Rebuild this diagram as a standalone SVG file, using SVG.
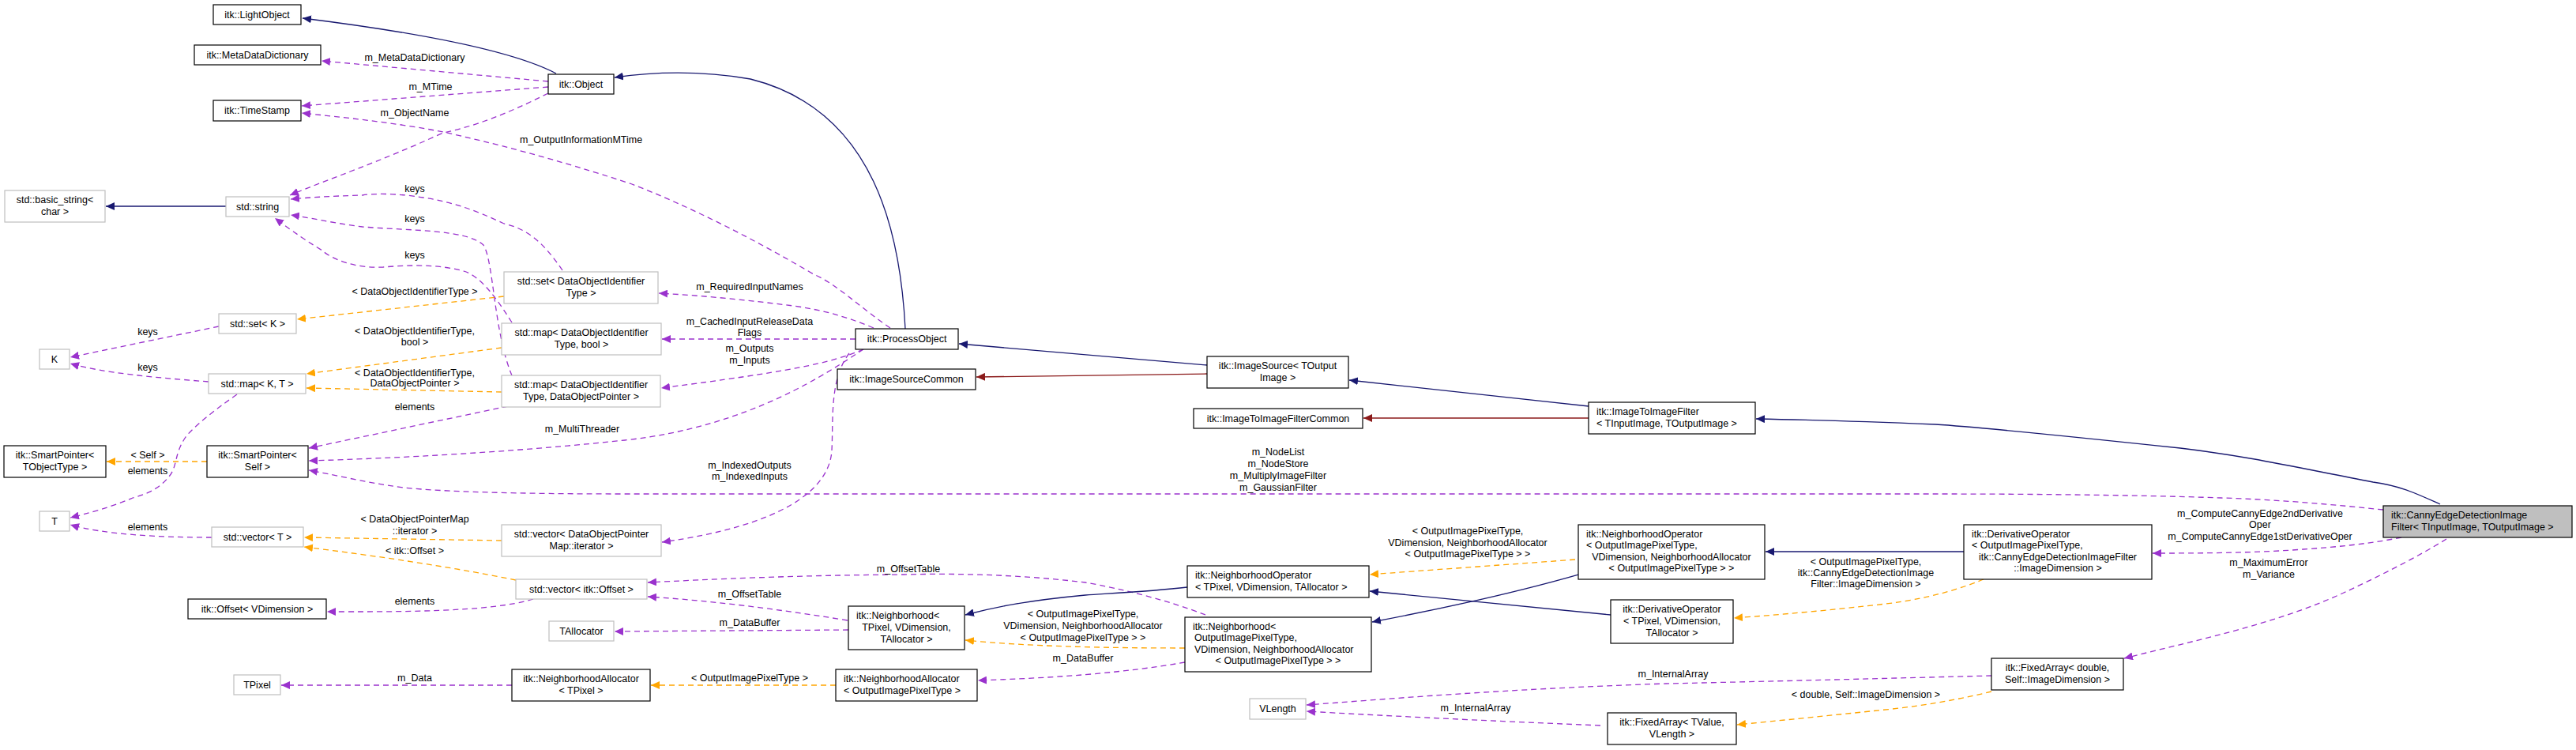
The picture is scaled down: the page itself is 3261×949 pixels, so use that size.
<svg xmlns="http://www.w3.org/2000/svg" width="3261" height="949" viewBox="0 0 3261 949">
<style>
text{font-family:"Liberation Sans",Arial,sans-serif;font-size:12.5px;fill:#000}
.c{text-anchor:middle}
.b{fill:#fff;stroke:#000;stroke-width:1.2}
.g{fill:#fff;stroke:#bfbfbf;stroke-width:1.2}
.e{fill:none;stroke-width:1.3}
.inh{stroke:#191970;marker-end:url(#mb)}
.red{stroke:#8b1a1a;marker-end:url(#mr)}
.use{stroke:#9a32cd;stroke-dasharray:7,5;marker-end:url(#mp)}
.tpl{stroke:#ffa500;stroke-dasharray:7,5;marker-end:url(#mo)}
</style>
<defs>
<marker id="mb" markerUnits="userSpaceOnUse" markerWidth="12" markerHeight="10" refX="11" refY="5" orient="auto"><path d="M0,0L11,5L0,10z" fill="#191970"/></marker>
<marker id="mr" markerUnits="userSpaceOnUse" markerWidth="12" markerHeight="10" refX="11" refY="5" orient="auto"><path d="M0,0L11,5L0,10z" fill="#8b1a1a"/></marker>
<marker id="mp" markerUnits="userSpaceOnUse" markerWidth="12" markerHeight="10" refX="11" refY="5" orient="auto"><path d="M0,0L11,5L0,10z" fill="#9a32cd"/></marker>
<marker id="mo" markerUnits="userSpaceOnUse" markerWidth="12" markerHeight="10" refX="11" refY="5" orient="auto"><path d="M0,0L11,5L0,10z" fill="#ffa500"/></marker>
</defs>
<rect width="3261" height="949" fill="#fff"/>
<g id="edges">
<path class="e inh" d="M704,93 C660,70 560,45 383,23"/>
<path class="e inh" d="M1146,416 C1140,300 1110,140 950,100 C880,88 820,92 778,98"/>
<path class="e use" d="M694,103 L407,77"/><text class="c" x="525" y="77">m_MetaDataDictionary</text>
<path class="e use" d="M694,110 L382,134"/><text class="c" x="545" y="114">m_MTime</text>
<path class="e use" d="M1127,415 C1090,390 1060,360 1030,347 C950,300 870,260 800,233 C700,200 620,180 561,167 C500,155 430,148 382,143"/><text x="658" y="181">m_OutputInformationMTime</text>
<path class="e use" d="M694,118 C640,145 600,160 561,168 C480,205 420,225 367,247"/><text class="c" x="525" y="147">m_ObjectName</text>
<path class="e inh" d="M286,261 L134,261"/>
<path class="e use" d="M712,342 C690,310 670,290 638,283 C600,265 570,255 536,250 C500,244 470,245 459,247 C420,248 390,250 368,252"/><text class="c" x="525" y="243">keys</text>
<path class="e use" d="M648,475 C625,420 625,330 612,310 C590,290 520,292 459,287 C420,282 390,275 368,272"/><text class="c" x="525" y="281">keys</text>
<path class="e use" d="M648,408 C630,380 610,350 587,343 C550,333 510,336 485,338 C450,340 420,328 408,317 C380,300 360,285 348,276"/><text class="c" x="525" y="327">keys</text>
<path class="e tpl" d="M638,375 L376,404"/><text class="c" x="525" y="373">&lt; DataObjectIdentifierType &gt;</text>
<path class="e tpl" d="M635,440 L388,473"/><text class="c" x="525" y="423">&lt; DataObjectIdentifierType,</text><text class="c" x="525" y="437">bool &gt;</text>
<path class="e tpl" d="M635,496 L388,491"/><text class="c" x="525" y="476">&lt; DataObjectIdentifierType,</text><text class="c" x="525" y="489">DataObjectPointer &gt;</text>
<path class="e use" d="M277,413 L89,452"/><text class="c" x="187" y="424">keys</text>
<path class="e use" d="M264,483 C200,478 130,472 89,460"/><text class="c" x="187" y="469">keys</text>
<path class="e use" d="M300,499 C270,520 245,540 235,553 C220,575 225,590 214,603 C200,620 185,625 168,630 C140,642 110,650 89,655"/><text class="c" x="187" y="600">elements</text>
<path class="e use" d="M268,680 C200,680 130,676 89,664"/><text class="c" x="187" y="671">elements</text>
<path class="e tpl" d="M262,584 L135,584"/><text class="c" x="187" y="580">&lt; Self &gt;</text>
<path class="e use" d="M643,514 L391,567"/><text class="c" x="525" y="519">elements</text>
<path class="e use" d="M1093,442 C1050,470 950,540 791,557 C650,572 500,580 391,583"/><text class="c" x="737" y="547">m_MultiThreader</text>
<path class="e use" d="M3017,645 C2950,638 2880,632 2812,630 C2700,626 2550,625 2450,625 L791,625 C650,625 560,622 510,617 C460,610 420,600 391,595"/><text class="c" x="1618" y="576">m_NodeList</text><text class="c" x="1618" y="591">m_NodeStore</text><text class="c" x="1618" y="606">m_MultiplyImageFilter</text><text class="c" x="1618" y="621">m_GaussianFilter</text>
<path class="e use" d="M1106,415 C1070,400 1040,392 1004,387 C950,380 890,374 834,371"/><text class="c" x="949" y="367">m_RequiredInputNames</text>
<path class="e use" d="M1083,429 L838,429"/><text class="c" x="949" y="411">m_CachedInputReleaseData</text><text class="c" x="949" y="425">Flags</text>
<path class="e use" d="M1093,442 C1050,460 1000,470 837,491"/><text class="c" x="949" y="445">m_Outputs</text><text class="c" x="949" y="460">m_Inputs</text>
<path class="e use" d="M1075,447 C1050,480 1055,530 1053,570 C1050,620 990,665 838,686"/><text class="c" x="949" y="593">m_IndexedOutputs</text><text class="c" x="949" y="607">m_IndexedInputs</text>
<path class="e tpl" d="M635,684 L385,680"/><text class="c" x="525" y="661">&lt; DataObjectPointerMap</text><text class="c" x="525" y="676">::iterator &gt;</text>
<path class="e tpl" d="M653,734 C560,715 450,700 385,692"/><text class="c" x="525" y="701">&lt; itk::Offset &gt;</text>
<path class="e use" d="M675,758 C620,775 500,774 414,774"/><text class="c" x="525" y="765">elements</text>
<path class="e use" d="M1073,785 C980,770 900,760 820,755"/><text class="c" x="949" y="756">m_OffsetTable</text>
<path class="e use" d="M1526,778 C1480,760 1420,745 1374,737 C1300,728 1220,725 1144,727 C1000,728 900,733 820,737"/><text class="c" x="1150" y="724">m_OffsetTable</text>
<path class="e use" d="M1074,797 L778,799"/><text class="c" x="949" y="792">m_DataBuffer</text>
<path class="e inh" d="M1503,743 C1460,748 1420,750 1374,753 C1300,760 1260,768 1222,778"/>
<path class="e tpl" d="M1500,820 C1400,820 1300,818 1222,810"/><text class="c" x="1371" y="781">&lt; OutputImagePixelType,</text><text class="c" x="1371" y="796">VDimension, NeighborhoodAllocator</text><text class="c" x="1371" y="811">&lt; OutputImagePixelType &gt; &gt;</text>
<path class="e use" d="M1500,838 C1420,852 1330,858 1238,861"/><text class="c" x="1371" y="837">m_DataBuffer</text>
<path class="e tpl" d="M1058,867 L824,867"/><text class="c" x="949" y="862">&lt; OutputImagePixelType &gt;</text>
<path class="e use" d="M648,867 L356,867"/><text class="c" x="525" y="862">m_Data</text>
<path class="e inh" d="M1998,727 C1900,755 1800,775 1737,787"/>
<path class="e tpl" d="M1994,708 C1900,715 1800,722 1734,727"/><text class="c" x="1858" y="676">&lt; OutputImagePixelType,</text><text class="c" x="1858" y="691">VDimension, NeighborhoodAllocator</text><text class="c" x="1858" y="705">&lt; OutputImagePixelType &gt; &gt;</text>
<path class="e inh" d="M2039,778 L1734,748"/>
<path class="e inh" d="M2486,698 L2235,698"/>
<path class="e tpl" d="M2511,733 C2470,750 2430,758 2396,763 C2320,772 2250,778 2195,782"/><text class="c" x="2362" y="715">&lt; OutputImagePixelType,</text><text class="c" x="2362" y="729">itk::CannyEdgeDetectionImage</text><text class="c" x="2362" y="743">Filter::ImageDimension &gt;</text>
<path class="e use" d="M3040,680 C3000,688 2960,692 2916,695 C2850,700 2780,700 2725,700"/><text class="c" x="2861" y="654">m_ComputeCannyEdge2ndDerivative</text><text class="c" x="2861" y="668">Oper</text><text class="c" x="2861" y="683">m_ComputeCannyEdge1stDerivativeOper</text>
<path class="e use" d="M3097,682 C3060,705 3010,730 2967,750 C2880,790 2780,810 2689,833"/><text class="c" x="2872" y="716">m_MaximumError</text><text class="c" x="2872" y="731">m_Variance</text>
<path class="e inh" d="M3089,638 C3060,625 3040,615 3004,610 C2900,590 2850,578 2760,567 C2600,550 2500,540 2450,537 C2350,533 2280,531 2223,530"/>
<path class="e inh" d="M2011,514 L1708,481"/>
<path class="e red" d="M2011,529 L1726,529"/>
<path class="e inh" d="M1528,462 L1214,435"/>
<path class="e red" d="M1528,473 L1236,477"/>
<path class="e use" d="M2521,855 C2400,858 2250,862 2109,865 C1900,872 1750,885 1654,892"/><text class="c" x="2118" y="857">m_InternalArray</text>
<path class="e use" d="M2026,918 C1880,912 1740,905 1654,900"/><text class="c" x="1868" y="900">m_InternalArray</text>
<path class="e tpl" d="M2521,875 C2480,885 2440,892 2396,897 C2320,905 2250,912 2199,917"/><text class="c" x="2362" y="883">&lt; double, Self::ImageDimension &gt;</text>
</g>
<g id="n1"><rect class="b" x="270" y="6" width="111" height="25"/><text class="c" x="325.5" y="23">itk::LightObject</text></g>
<g id="n2"><rect class="b" x="246" y="57" width="160" height="25"/><text class="c" x="326" y="74">itk::MetaDataDictionary</text></g>
<g id="n3"><rect class="b" x="270" y="127" width="111" height="26"/><text class="c" x="325.5" y="144">itk::TimeStamp</text></g>
<g id="n4"><rect class="b" x="694" y="94" width="83" height="25"/><text class="c" x="735.5" y="111">itk::Object</text></g>
<g id="n5"><rect class="g" x="6" y="241" width="127" height="40"/><text class="c" x="69.5" y="257">std::basic_string&lt;</text><text class="c" x="69.5" y="272">char &gt;</text></g>
<g id="n6"><rect class="g" x="286" y="249" width="80" height="25"/><text class="c" x="326" y="266">std::string</text></g>
<g id="n7"><rect class="g" x="638" y="344" width="195" height="40"/><text class="c" x="735.5" y="360">std::set&lt; DataObjectIdentifier</text><text class="c" x="735.5" y="375">Type &gt;</text></g>
<g id="n8"><rect class="g" x="635" y="409" width="202" height="40"/><text class="c" x="736" y="425">std::map&lt; DataObjectIdentifier</text><text class="c" x="736" y="440">Type, bool &gt;</text></g>
<g id="n9"><rect class="g" x="277" y="397" width="98" height="25"/><text class="c" x="326" y="414">std::set&lt; K &gt;</text></g>
<g id="n10"><rect class="g" x="50" y="442" width="38" height="25"/><text class="c" x="69" y="459">K</text></g>
<g id="n11"><rect class="g" x="264" y="473" width="123" height="25"/><text class="c" x="325.5" y="490">std::map&lt; K, T &gt;</text></g>
<g id="n12"><rect class="g" x="635" y="475" width="201" height="40"/><text class="c" x="735.5" y="491">std::map&lt; DataObjectIdentifier</text><text class="c" x="735.5" y="506">Type, DataObjectPointer &gt;</text></g>
<g id="n13"><rect class="b" x="5" y="564" width="129" height="40"/><text class="c" x="69.5" y="580">itk::SmartPointer&lt;</text><text class="c" x="69.5" y="595">TObjectType &gt;</text></g>
<g id="n14"><rect class="b" x="262" y="564" width="128" height="40"/><text class="c" x="326" y="580">itk::SmartPointer&lt;</text><text class="c" x="326" y="595">Self &gt;</text></g>
<g id="n15"><rect class="g" x="50" y="647" width="38" height="25"/><text class="c" x="69" y="664">T</text></g>
<g id="n16"><rect class="g" x="268" y="667" width="116" height="25"/><text class="c" x="326" y="684">std::vector&lt; T &gt;</text></g>
<g id="n17"><rect class="g" x="635" y="664" width="202" height="40"/><text class="c" x="736" y="680">std::vector&lt; DataObjectPointer</text><text class="c" x="736" y="695">Map::iterator &gt;</text></g>
<g id="n18"><rect class="g" x="653" y="733" width="166" height="25"/><text class="c" x="736" y="750">std::vector&lt; itk::Offset &gt;</text></g>
<g id="n19"><rect class="b" x="238" y="758" width="175" height="25"/><text class="c" x="325.5" y="775">itk::Offset&lt; VDimension &gt;</text></g>
<g id="n20"><rect class="g" x="695" y="786" width="82" height="25"/><text class="c" x="736" y="803">TAllocator</text></g>
<g id="n21"><rect class="g" x="296" y="854" width="59" height="25"/><text class="c" x="325.5" y="871">TPixel</text></g>
<g id="n22"><rect class="b" x="648" y="847" width="175" height="40"/><text class="c" x="735.5" y="863">itk::NeighborhoodAllocator</text><text class="c" x="735.5" y="878">&lt; TPixel &gt;</text></g>
<g id="n23"><rect class="b" x="1083" y="416" width="130" height="26"/><text class="c" x="1148" y="433">itk::ProcessObject</text></g>
<g id="n24"><rect class="b" x="1528" y="451" width="179" height="40"/><text class="c" x="1617.5" y="467">itk::ImageSource&lt; TOutput</text><text class="c" x="1617.5" y="482">Image &gt;</text></g>
<g id="n25"><rect class="b" x="1060" y="467" width="175" height="26"/><text class="c" x="1147.5" y="484">itk::ImageSourceCommon</text></g>
<g id="n26"><rect class="b" x="1511" y="517" width="214" height="25"/><text class="c" x="1618" y="534">itk::ImageToImageFilterCommon</text></g>
<g id="n27"><rect class="b" x="2011" y="509" width="211" height="40"/><text x="2021" y="525">itk::ImageToImageFilter</text><text x="2021" y="540">&lt; TInputImage, TOutputImage &gt;</text></g>
<g id="n28"><rect x="3017" y="640" width="239" height="40" fill="#bfbfbf" stroke="#000" stroke-width="1.2"/><text x="3027" y="656">itk::CannyEdgeDetectionImage</text><text x="3027" y="671">Filter&lt; TInputImage, TOutputImage &gt;</text></g>
<g id="n29"><rect class="b" x="2486" y="664" width="238" height="69"/><text x="2496" y="680">itk::DerivativeOperator</text><text x="2496" y="694">&lt; OutputImagePixelType,</text><text class="c" x="2605" y="709">itk::CannyEdgeDetectionImageFilter</text><text class="c" x="2605" y="723">::ImageDimension &gt;</text></g>
<g id="n30"><rect class="b" x="2521" y="833" width="167" height="40"/><text class="c" x="2604.5" y="849">itk::FixedArray&lt; double,</text><text class="c" x="2604.5" y="864">Self::ImageDimension &gt;</text></g>
<g id="n31"><rect class="b" x="1998" y="664" width="236" height="69"/><text x="2008" y="680">itk::NeighborhoodOperator</text><text x="2008" y="694">&lt; OutputImagePixelType,</text><text class="c" x="2116" y="709">VDimension, NeighborhoodAllocator</text><text class="c" x="2116" y="723">&lt; OutputImagePixelType &gt; &gt;</text></g>
<g id="n32"><rect class="b" x="2039" y="759" width="155" height="55"/><text class="c" x="2116.5" y="775">itk::DerivativeOperator</text><text class="c" x="2116.5" y="790">&lt; TPixel, VDimension,</text><text class="c" x="2116.5" y="805">TAllocator &gt;</text></g>
<g id="n33"><rect class="b" x="2035" y="902" width="163" height="40"/><text class="c" x="2116.5" y="918">itk::FixedArray&lt; TValue,</text><text class="c" x="2116.5" y="933">VLength &gt;</text></g>
<g id="n34"><rect class="g" x="1582" y="884" width="71" height="26"/><text class="c" x="1617.5" y="901">VLength</text></g>
<g id="n35"><rect class="b" x="1503" y="716" width="230" height="40"/><text x="1513" y="732">itk::NeighborhoodOperator</text><text x="1513" y="747">&lt; TPixel, VDimension, TAllocator &gt;</text></g>
<g id="n36"><rect class="b" x="1074" y="767" width="147" height="55"/><text x="1084" y="783">itk::Neighborhood&lt;</text><text class="c" x="1147.5" y="798">TPixel, VDimension,</text><text class="c" x="1147.5" y="813">TAllocator &gt;</text></g>
<g id="n37"><rect class="b" x="1500" y="781" width="236" height="69"/><text x="1510" y="797">itk::Neighborhood&lt;</text><text x="1512" y="811">OutputImagePixelType,</text><text x="1512" y="826">VDimension, NeighborhoodAllocator</text><text class="c" x="1618" y="840">&lt; OutputImagePixelType &gt; &gt;</text></g>
<g id="n38"><rect class="b" x="1058" y="847" width="179" height="40"/><text x="1068" y="863">itk::NeighborhoodAllocator</text><text x="1068" y="878">&lt; OutputImagePixelType &gt;</text></g>
</svg>
